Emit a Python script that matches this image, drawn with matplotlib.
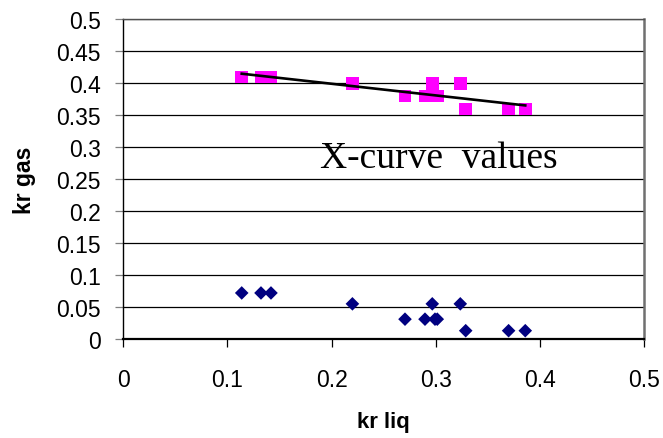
import numpy as np
import matplotlib
matplotlib.use("Agg")
import matplotlib.pyplot as plt

# Relative permeability data
kr_liq = [0.1137, 0.1322, 0.1418, 0.220, 0.2705, 0.2897, 0.2967,
          0.2993, 0.3015, 0.3236, 0.3288, 0.370, 0.386]
kr_gas_measured = [0.072, 0.072, 0.072, 0.055, 0.031, 0.031, 0.055,
                   0.031, 0.031, 0.055, 0.013, 0.013, 0.013]
kr_gas_xcurve = [0.41, 0.41, 0.41, 0.40, 0.38, 0.38, 0.40,
                 0.38, 0.38, 0.40, 0.36, 0.36, 0.36]

x_ticks = [0, 0.1, 0.2, 0.3, 0.4, 0.5]
x_tick_labels = ["0", "0.1", "0.2", "0.3", "0.4", "0.5"]
y_ticks = [0, 0.05, 0.1, 0.15, 0.2, 0.25, 0.3, 0.35, 0.4, 0.45, 0.5]
y_tick_labels = ["0", "0.05", "0.1", "0.15", "0.2", "0.25", "0.3",
                 "0.35", "0.4", "0.45", "0.5"]

fig = plt.figure(figsize=(6.63, 4.39), dpi=100)
ax = fig.add_axes([0.186, 0.2255, 0.9713 - 0.186, 0.9538 - 0.2255])

ax.set_xlim(0, 0.5)
ax.set_ylim(0, 0.5)

# horizontal gridlines
for yv in y_ticks[1:]:
    ax.axhline(yv, color="black", lw=0.9, zorder=1)

ax.scatter(kr_liq, kr_gas_measured, marker="D", s=48, color="#000080",
           edgecolors="none", zorder=3)
ax.scatter(kr_liq, kr_gas_xcurve, marker="s", s=82, color="#FF00FF",
           edgecolors="none", zorder=3)

# linear trend of the X-curve values
coef = np.polyfit(kr_liq, kr_gas_xcurve, 1)
xs = np.array([min(kr_liq), max(kr_liq)])
ax.plot(xs, np.polyval(coef, xs), color="black", lw=1.9, zorder=4)

ax.text(0.189, 0.2685, "X-curve  values", family="Liberation Serif",
        fontsize=27, ha="left", va="baseline", zorder=5)

ax.set_xticks(x_ticks)
ax.set_xticklabels(x_tick_labels)
ax.set_yticks(y_ticks)
ax.set_yticklabels(y_tick_labels)
ax.tick_params(axis="x", direction="out", length=6, width=0.9,
               pad=15, labelsize=16.5, color="black")
ax.tick_params(axis="y", direction="out", length=6, width=0.9,
               pad=10, labelsize=16.5, color="#808080")
for lab in ax.get_xticklabels() + ax.get_yticklabels():
    lab.set_family("Liberation Sans")

ax.spines["left"].set_color("black")
ax.spines["left"].set_linewidth(1.0)
ax.spines["bottom"].set_color("black")
ax.spines["bottom"].set_linewidth(1.6)
ax.spines["right"].set_color("#707070")
ax.spines["right"].set_linewidth(1.8)
ax.spines["top"].set_color("#505050")
ax.spines["top"].set_linewidth(1.0)

ax.set_xlabel("kr liq", family="Liberation Sans", fontweight="bold",
              fontsize=16, labelpad=14)
ax.set_ylabel("kr gas", family="Liberation Sans", fontweight="bold",
              fontsize=16.5, labelpad=15)

fig.savefig("out.png", dpi=100)
